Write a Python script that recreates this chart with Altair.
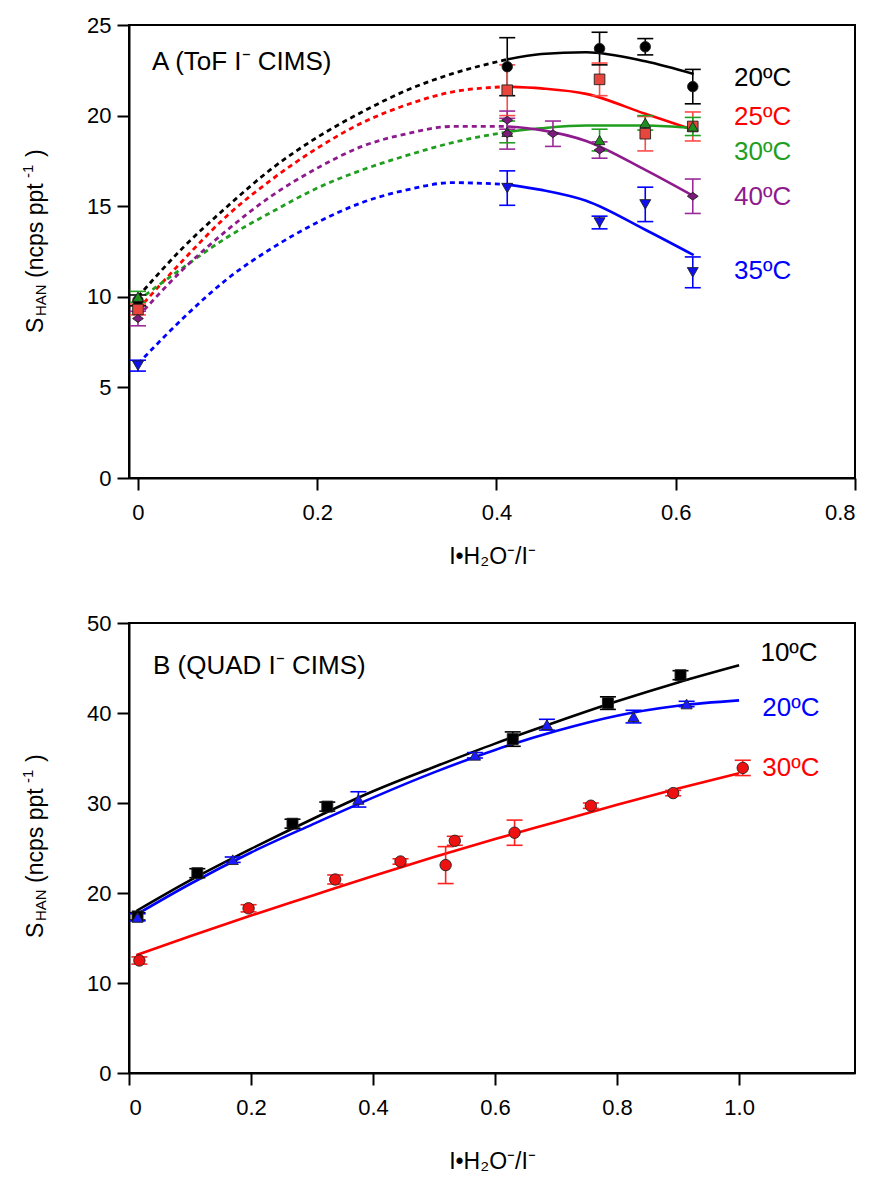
import altair as alt
import pandas as pd

FONT = "Liberation Sans"

# ---------------- Panel A (ToF I- CIMS) ----------------
a_series = ["20ºC", "25ºC", "30ºC", "40ºC", "35ºC"]
a_line_colors = ["#000000", "#ff0000", "#1f9e1f", "#8e1a8e", "#0000ff"]
a_fill_colors = ["#000000", "#e8453c", "#1e8f1e", "#7d1a7d", "#1010ee"]
a_err_colors = ["#000000", "#ff4a4a", "#22a022", "#9a2a9a", "#0000ff"]
a_shapes = ["circle", "square", "triangle-up", "M-1,0L0,-0.72L1,0L0,0.72Z", "triangle-down"]
a_sizes = [110, 120, 140, 190, 140]

# measured points: x, y, error (+/-)
a20_x = [0.0, 0.412, 0.515, 0.566, 0.619]
a20_y = [9.8, 22.7, 23.7, 23.8, 21.6]
a20_e = [0.3, 1.6, 0.9, 0.45, 0.95]
a25_x = [0.0, 0.412, 0.515, 0.566, 0.619]
a25_y = [9.3, 21.4, 22.0, 19.0, 19.4]
a25_e = [0.3, 1.4, 0.9, 0.95, 0.8]
a30_x = [0.0, 0.412, 0.515, 0.566, 0.619]
a30_y = [10.0, 19.1, 18.65, 19.6, 19.4]
a30_e = [0.3, 0.6, 0.6, 0.4, 0.5]
a40_x = [0.0, 0.412, 0.412, 0.463, 0.515, 0.619]
a40_y = [8.8, 19.75, 19.0, 19.0, 18.1, 15.55]
a40_e = [0.4, 0.5, 0.85, 0.7, 0.45, 0.95]
a35_x = [0.0, 0.412, 0.515, 0.566, 0.619]
a35_y = [6.2, 16.0, 14.1, 15.1, 11.35]
a35_e = [0.3, 0.95, 0.35, 0.95, 0.85]

# fitted curves, solid part (over measured range)
a_fit_x = [0.412, 0.45, 0.5, 0.566, 0.62]
a20_fit = [23.1, 23.4, 23.5, 23.0, 22.3]
a25_fit = [21.6, 21.5, 21.2, 20.1, 19.2]
a30_fit = [19.1, 19.3, 19.45, 19.45, 19.3]
a40_fit = [19.4, 19.2, 18.6, 17.0, 15.55]
a35_fit = [16.2, 15.9, 15.3, 13.7, 12.3]

# fitted curves, dashed extrapolation
a_ext_x = [0.0, 0.05, 0.1, 0.15, 0.2, 0.25, 0.3, 0.35, 0.412]
a20_ext = [10.0, 12.7, 15.0, 17.1, 18.8, 20.2, 21.4, 22.3, 23.1]
a25_ext = [9.3, 12.0, 14.5, 16.5, 18.2, 19.6, 20.6, 21.3, 21.6]
a30_ext = [9.8, 11.6, 13.3, 14.7, 16.0, 17.0, 17.8, 18.5, 19.1]
a40_ext = [8.9, 11.5, 13.7, 15.6, 17.1, 18.3, 19.0, 19.4, 19.4]
a35_ext = [6.3, 8.8, 11.0, 12.7, 14.1, 15.2, 15.9, 16.3, 16.2]

a_label_x = [0.665, 0.665, 0.665, 0.665, 0.665]
a_label_y = [22.1, 19.9, 18.0, 15.5, 11.4]

# ---------------- Panel B (QUAD I- CIMS) ----------------
b_series = ["10ºC", "20ºC", "30ºC"]
b_line_colors = ["#000000", "#0000ff", "#ff0000"]
b_fill_colors = ["#000000", "#1a1aff", "#ee1111"]
b_err_colors = ["#000000", "#0000ff", "#ff2020"]
b_shapes = ["square", "triangle-up", "circle"]
b_sizes = [120, 130, 130]

b10_x = [0.014, 0.112, 0.268, 0.325, 0.629, 0.785, 0.904]
b10_y = [17.4, 22.2, 27.7, 29.6, 37.1, 41.1, 44.2]
b10_e = [0.4, 0.5, 0.5, 0.5, 0.8, 0.7, 0.5]
b20_x = [0.014, 0.17, 0.376, 0.567, 0.685, 0.827, 0.914]
b20_y = [17.3, 23.7, 30.4, 35.3, 38.7, 39.6, 41.0]
b20_e = [0.4, 0.3, 0.85, 0.3, 0.6, 0.7, 0.3]
b30_x = [0.017, 0.196, 0.338, 0.445, 0.519, 0.534, 0.632, 0.757, 0.892, 1.006]
b30_y = [12.5, 18.3, 21.5, 23.5, 23.1, 25.8, 26.7, 29.7, 31.1, 33.9]
b30_e = [0.4, 0.4, 0.5, 0.3, 2.05, 0.5, 1.4, 0.3, 0.3, 0.85]

b_fit_x = [0.012, 0.1, 0.2, 0.3, 0.4, 0.5, 0.6, 0.7, 0.8, 0.9, 1.0]
b10_fit = [18.0, 21.4, 24.9, 28.2, 31.3, 34.0, 36.6, 39.0, 41.3, 43.4, 45.3]
b20_fit = [17.6, 21.0, 24.5, 27.6, 30.6, 33.4, 35.9, 38.0, 39.7, 40.8, 41.4]
b30_fit = [13.1, 15.2, 17.5, 19.7, 21.9, 24.0, 26.0, 27.9, 29.8, 31.6, 33.3]

b_label_x = [1.035, 1.038, 1.038]
b_label_y = [46.7, 40.6, 33.9]


def points_table(names, xs_list, ys_list, es_list):
    rows = []
    for n, xs, ys, es in zip(names, xs_list, ys_list, es_list):
        for x, y, e in zip(xs, ys, es):
            rows.append({"series": n, "x": x, "y": y, "lo": y - e, "hi": y + e})
    return pd.DataFrame(rows)


def curve_table(names, xs, ys_list):
    rows = []
    for n, ys in zip(names, ys_list):
        for x, y in zip(xs, ys):
            rows.append({"series": n, "x": x, "y": y})
    return pd.DataFrame(rows)


def y_title_layers(start_y):
    # y-axis title "S_HAN (ncps ppt^-1)" built from rotated text pieces
    bx = -86
    pieces = [
        ("S", 23, 0, 0.0),
        ("HAN", 15, 3, 17.0),
        ("(ncps ppt", 23, 0, 55.0),
        ("-1", 15, -10, 155.0),
        (")", 23, 0, 176.0),
    ]
    one = pd.DataFrame({"k": [0]})
    layers = []
    for txt, fs, dy, off in pieces:
        layers.append(
            alt.Chart(one).mark_text(
                text=txt, fontSize=fs, font=FONT, angle=270, align="left",
                baseline="alphabetic", dy=dy, color="black"
            ).encode(x=alt.value(bx), y=alt.value(start_y - off))
        )
    return layers


def panel(pts, solid, dashed, labels, series, line_colors, fill_colors, err_colors,
          shapes, sizes, xdom, ydom, xvals, yvals, ptext, ptext_xy, title_start, w, h,
          title_pad):
    xs = alt.Scale(domain=xdom, nice=False, zero=False)
    ys = alt.Scale(domain=ydom, nice=False, zero=False)
    xax = alt.Axis(values=xvals, title="I•H₂O⁻/I⁻", titlePadding=title_pad,
                   labelExpr="datum.value == 0 ? '0' : format(datum.value, '.1f')")
    yax = alt.Axis(values=yvals, title=None)
    X = alt.X("x:Q", scale=xs, axis=xax)
    Y = alt.Y("y:Q", scale=ys, axis=yax)
    col = alt.Color("series:N", scale=alt.Scale(domain=series, range=line_colors), legend=None)
    stk = alt.Stroke("series:N", scale=alt.Scale(domain=series, range=err_colors), legend=None)

    layers = []
    if len(dashed):
        layers.append(alt.Chart(dashed).mark_line(strokeDash=[5, 4], strokeWidth=2.8,
                                                  interpolate="monotone").encode(
            x=X, y=Y, color=col, detail="series:N"))
    sol = alt.Chart(solid).mark_line(strokeWidth=2.6, interpolate="monotone").encode(
        x=X, y=Y, color=col, detail="series:N")
    bar = alt.Chart(pts).mark_rule(strokeWidth=1.6).encode(
        x=X, y=alt.Y("lo:Q", scale=ys, axis=yax), y2="hi:Q", stroke=stk)
    cap_lo = alt.Chart(pts).mark_rule(strokeWidth=1.6, xOffset=-8, x2Offset=8).encode(
        x=X, x2="x:Q", y=alt.Y("lo:Q", scale=ys, axis=yax), stroke=stk)
    cap_hi = alt.Chart(pts).mark_rule(strokeWidth=1.6, xOffset=-8, x2Offset=8).encode(
        x=X, x2="x:Q", y=alt.Y("hi:Q", scale=ys, axis=yax), stroke=stk)
    pt = alt.Chart(pts).mark_point(filled=True, opacity=1, stroke="#202020", strokeWidth=0.9).encode(
        x=X, y=Y,
        fill=alt.Fill("series:N", scale=alt.Scale(domain=series, range=fill_colors), legend=None),
        shape=alt.Shape("series:N", scale=alt.Scale(domain=series, range=shapes), legend=None),
        size=alt.Size("series:N", scale=alt.Scale(domain=series, range=sizes), legend=None),
    )
    lab = alt.Chart(labels).mark_text(align="left", baseline="middle", fontSize=26, font=FONT).encode(
        x=X, y=Y, text="series:N", color=col)
    one = pd.DataFrame({"k": [0]})
    ptxt = alt.Chart(one).mark_text(text=ptext, align="left", baseline="alphabetic",
                                    fontSize=26, font=FONT, color="black").encode(
        x=alt.value(ptext_xy[0]), y=alt.value(ptext_xy[1]))
    layers += [sol, bar, cap_lo, cap_hi, pt, lab, ptxt] + y_title_layers(title_start)
    return alt.layer(*layers).properties(width=w, height=h)


a_pts = points_table(a_series, [a20_x, a25_x, a30_x, a40_x, a35_x],
                     [a20_y, a25_y, a30_y, a40_y, a35_y], [a20_e, a25_e, a30_e, a40_e, a35_e])
a_solid = curve_table(a_series, a_fit_x, [a20_fit, a25_fit, a30_fit, a40_fit, a35_fit])
a_dash = curve_table(a_series, a_ext_x, [a20_ext, a25_ext, a30_ext, a40_ext, a35_ext])
a_labels = pd.DataFrame({"series": a_series, "x": a_label_x, "y": a_label_y})

b_pts = points_table(b_series, [b10_x, b20_x, b30_x], [b10_y, b20_y, b30_y], [b10_e, b20_e, b30_e])
b_solid = curve_table(b_series, b_fit_x, [b10_fit, b20_fit, b30_fit])
b_dash = b_solid.iloc[0:0]
b_labels = pd.DataFrame({"series": b_series, "x": b_label_x, "y": b_label_y})

panel_a = panel(a_pts, a_solid, a_dash, a_labels, a_series, a_line_colors, a_fill_colors,
                a_err_colors, a_shapes, a_sizes, [-0.01, 0.8], [0, 25],
                [0, 0.2, 0.4, 0.6, 0.8], [0, 5, 10, 15, 20, 25],
                "A (ToF I⁻ CIMS)", (23, 45), 308, 726, 453, 22)
panel_b = panel(b_pts, b_solid, b_dash, b_labels, b_series, b_line_colors, b_fill_colors,
                b_err_colors, b_shapes, b_sizes, [0, 1.19], [0, 50],
                [0, 0.2, 0.4, 0.6, 0.8, 1.0], [0, 10, 20, 30, 40, 50],
                "B (QUAD I⁻ CIMS)", (24, 51), 315, 726, 450, 32)

chart = alt.vconcat(panel_a, panel_b, spacing=42).resolve_scale(
    color="independent", fill="independent", shape="independent",
    size="independent", stroke="independent", x="independent", y="independent"
).properties(
    padding={"left": 12, "top": 5, "right": 5, "bottom": 2}
).configure_view(
    stroke="black", strokeWidth=2
).configure_axis(
    grid=False, domainColor="black", domainWidth=2, tickColor="black", tickWidth=2,
    tickSize=12, labelFont=FONT, labelFontSize=22, labelColor="black", labelPadding=6,
    titleFont=FONT, titleFontSize=23, titleFontWeight="normal", titleColor="black"
).configure_axisX(
    labelPadding=12
)

chart.save("out.html", embed_options={"renderer": "svg", "actions": False})
